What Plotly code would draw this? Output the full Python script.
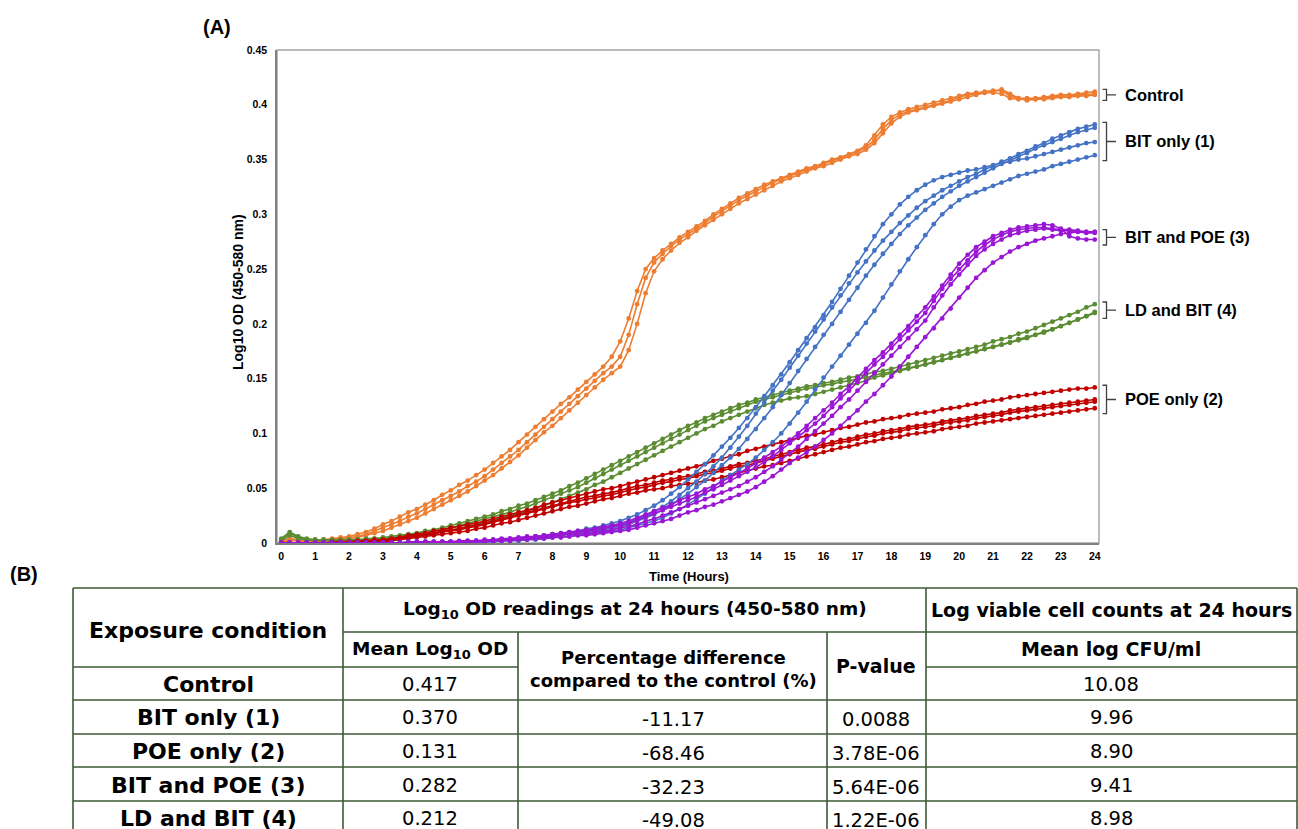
import plotly.graph_objects as go

# ---------------- data ----------------
hours = [0, 0.25, 0.5, 0.75, 1, 1.25, 1.5, 1.75, 2, 2.25, 2.5, 2.75, 3, 3.25, 3.5, 3.75,
         4, 4.25, 4.5, 4.75, 5, 5.25, 5.5, 5.75, 6, 6.25, 6.5, 6.75, 7, 7.25, 7.5, 7.75,
         8, 8.25, 8.5, 8.75, 9, 9.25, 9.5, 9.75, 10, 10.25, 10.5, 10.75, 11, 11.25, 11.5, 11.75,
         12, 12.25, 12.5, 12.75, 13, 13.25, 13.5, 13.75, 14, 14.25, 14.5, 14.75, 15, 15.25, 15.5, 15.75,
         16, 16.25, 16.5, 16.75, 17, 17.25, 17.5, 17.75, 18, 18.25, 18.5, 18.75, 19, 19.25, 19.5, 19.75,
         20, 20.25, 20.5, 20.75, 21, 21.25, 21.5, 21.75, 22, 22.25, 22.5, 22.75, 23, 23.25, 23.5, 23.75, 24]
tick_vals = [0, 1, 2, 3, 4, 5, 6, 7, 8, 9, 10, 11, 12, 13, 14, 15, 16, 17, 18, 19, 20, 21, 22, 23, 24]
tick_labels = ["0", "1", "2", "3", "4", "5", "6", "7", "8", "9", "10", "11", "12",
               "13", "14", "15", "16", "17", "18", "19", "20", "21", "22", "23", "24"]
y_ticks = [0, 0.05, 0.1, 0.15, 0.2, 0.25, 0.3, 0.35, 0.4, 0.45]
y_tick_labels = ["0", "0.05", "0.1", "0.15", "0.2", "0.25", "0.3", "0.35", "0.4", "0.45"]

control_1 = [0.002,
 0.004,0.003,0.002,0.003, 0.003,0.004,0.005,0.006, 0.008,0.010,0.013,0.017, 0.020,0.024,0.028,0.031,
 0.035,0.039,0.044,0.048, 0.053,0.057,0.062,0.067, 0.073,0.079,0.085,0.092, 0.099,0.106,0.113,0.120,
 0.127,0.133,0.140,0.147, 0.154,0.161,0.170,0.184, 0.205,0.230,0.250,0.260, 0.267,0.273,0.279,0.284,
 0.289,0.294,0.300,0.305, 0.310,0.315,0.319,0.323, 0.327,0.330,0.333,0.336, 0.339,0.342,0.344,0.347,
 0.350,0.352,0.355,0.358, 0.363,0.372,0.382,0.389, 0.393,0.396,0.398,0.400, 0.402,0.404,0.406,0.408,
 0.410,0.411,0.412,0.413, 0.413,0.408,0.406,0.406, 0.406,0.407,0.408,0.409, 0.409,0.410,0.411,0.412]
control_2 = [0.002,
 0.003,0.002,0.002,0.002, 0.002,0.003,0.004,0.005, 0.006,0.008,0.011,0.014, 0.017,0.020,0.024,0.027,
 0.031,0.035,0.039,0.043, 0.047,0.052,0.056,0.061, 0.067,0.073,0.079,0.085, 0.092,0.099,0.106,0.113,
 0.120,0.127,0.134,0.141, 0.148,0.155,0.161,0.170, 0.190,0.218,0.242,0.256, 0.264,0.271,0.277,0.282,
 0.287,0.292,0.298,0.303, 0.308,0.313,0.317,0.321, 0.325,0.329,0.332,0.335, 0.338,0.341,0.343,0.346,
 0.349,0.351,0.354,0.357, 0.361,0.368,0.378,0.386, 0.391,0.394,0.396,0.398, 0.400,0.402,0.404,0.407,
 0.409,0.410,0.411,0.411, 0.410,0.406,0.405,0.405, 0.405,0.406,0.407,0.408, 0.408,0.409,0.409,0.410]
control_3 = [0.001,
 0.002,0.002,0.001,0.001, 0.002,0.002,0.003,0.004, 0.005,0.007,0.009,0.011, 0.014,0.017,0.020,0.023,
 0.027,0.031,0.035,0.039, 0.043,0.047,0.052,0.057, 0.062,0.068,0.074,0.080, 0.087,0.094,0.101,0.107,
 0.114,0.121,0.128,0.135, 0.142,0.149,0.155,0.161, 0.176,0.200,0.228,0.248, 0.259,0.267,0.274,0.279,
 0.285,0.290,0.295,0.300, 0.305,0.310,0.314,0.318, 0.322,0.326,0.330,0.333, 0.336,0.339,0.342,0.344,
 0.347,0.350,0.353,0.355, 0.359,0.365,0.374,0.383, 0.389,0.393,0.395,0.397, 0.399,0.401,0.403,0.405,
 0.407,0.409,0.411,0.412, 0.414,0.410,0.406,0.404, 0.405,0.405,0.406,0.407, 0.407,0.408,0.408,0.409]

ld_bit_1 = [0.004,
 0.010,0.006,0.004,0.003, 0.003,0.003,0.003,0.003, 0.003,0.004,0.004,0.005, 0.006,0.007,0.008,0.009,
 0.011,0.012,0.014,0.016, 0.018,0.020,0.022,0.024, 0.026,0.029,0.031,0.034, 0.036,0.039,0.042,0.045,
 0.048,0.052,0.055,0.059, 0.063,0.067,0.071,0.075, 0.079,0.083,0.087,0.091, 0.095,0.099,0.103,0.107,
 0.110,0.114,0.117,0.120, 0.123,0.126,0.128,0.131, 0.133,0.135,0.137,0.139, 0.141,0.143,0.144,0.146,
 0.147,0.149,0.151,0.152, 0.154,0.156,0.157,0.159, 0.161,0.163,0.165,0.167, 0.169,0.171,0.173,0.175,
 0.177,0.179,0.181,0.184, 0.186,0.188,0.191,0.193, 0.196,0.199,0.202,0.205, 0.208,0.211,0.215,0.218]
ld_bit_2 = [0.003,
 0.009,0.005,0.003,0.003, 0.003,0.002,0.002,0.003, 0.003,0.003,0.004,0.004, 0.005,0.006,0.007,0.008,
 0.009,0.011,0.012,0.014, 0.016,0.018,0.020,0.022, 0.024,0.026,0.028,0.031, 0.033,0.036,0.039,0.042,
 0.045,0.048,0.051,0.055, 0.059,0.063,0.067,0.071, 0.075,0.079,0.083,0.087, 0.091,0.095,0.099,0.103,
 0.107,0.111,0.114,0.117, 0.120,0.123,0.126,0.129, 0.131,0.133,0.135,0.137, 0.139,0.141,0.142,0.144,
 0.145,0.147,0.148,0.150, 0.151,0.153,0.155,0.156, 0.158,0.160,0.161,0.163, 0.165,0.167,0.169,0.171,
 0.173,0.175,0.177,0.179, 0.181,0.183,0.186,0.188, 0.190,0.193,0.195,0.198, 0.201,0.204,0.207,0.210]
ld_bit_3 = [0.002,
 0.007,0.004,0.003,0.002, 0.002,0.002,0.002,0.002, 0.002,0.003,0.003,0.003, 0.004,0.005,0.006,0.007,
 0.008,0.009,0.010,0.012, 0.013,0.015,0.017,0.019, 0.021,0.023,0.025,0.027, 0.029,0.032,0.034,0.037,
 0.040,0.043,0.046,0.049, 0.053,0.056,0.060,0.064, 0.068,0.072,0.076,0.080, 0.084,0.088,0.092,0.096,
 0.100,0.104,0.107,0.111, 0.114,0.117,0.120,0.123, 0.126,0.128,0.130,0.132, 0.133,0.134,0.136,0.138,
 0.140,0.142,0.144,0.146, 0.148,0.151,0.153,0.155, 0.157,0.159,0.161,0.163, 0.165,0.167,0.169,0.171,
 0.173,0.175,0.177,0.179, 0.181,0.183,0.185,0.187, 0.190,0.192,0.195,0.198, 0.201,0.204,0.207,0.211]

poe_1 = [0.000,
 0.000,0.000,0.000,0.000, 0.000,0.001,0.001,0.001, 0.002,0.002,0.003,0.003, 0.004,0.005,0.007,0.008,
 0.009,0.011,0.012,0.014, 0.015,0.017,0.018,0.020, 0.022,0.024,0.026,0.028, 0.030,0.032,0.035,0.037,
 0.039,0.041,0.043,0.045, 0.047,0.049,0.050,0.052, 0.054,0.056,0.058,0.060, 0.062,0.064,0.066,0.068,
 0.070,0.072,0.075,0.077, 0.079,0.081,0.084,0.086, 0.088,0.090,0.092,0.094, 0.096,0.098,0.099,0.101,
 0.103,0.105,0.106,0.108, 0.110,0.111,0.113,0.114, 0.115,0.117,0.118,0.119, 0.120,0.122,0.123,0.124,
 0.126,0.127,0.129,0.130, 0.131,0.133,0.134,0.135, 0.136,0.137,0.138,0.139, 0.140,0.141,0.141,0.142]
poe_2 = [0.000,
 0.000,0.000,0.000,0.000, 0.000,0.000,0.001,0.001, 0.001,0.002,0.002,0.002, 0.003,0.004,0.006,0.007,
 0.008,0.009,0.011,0.012, 0.013,0.015,0.016,0.018, 0.020,0.022,0.024,0.026, 0.028,0.030,0.032,0.034,
 0.036,0.038,0.040,0.042, 0.043,0.045,0.046,0.048, 0.050,0.052,0.053,0.055, 0.057,0.058,0.060,0.061,
 0.063,0.065,0.066,0.068, 0.070,0.072,0.073,0.075, 0.077,0.079,0.081,0.083, 0.085,0.087,0.088,0.090,
 0.092,0.094,0.095,0.097, 0.099,0.100,0.102,0.103, 0.104,0.106,0.107,0.108, 0.109,0.111,0.112,0.113,
 0.114,0.116,0.117,0.118, 0.119,0.121,0.122,0.123, 0.124,0.125,0.126,0.127, 0.128,0.129,0.130,0.131]
poe_3 = [0.000,
 0.000,0.000,0.000,0.000, 0.000,0.000,0.000,0.001, 0.001,0.001,0.002,0.002, 0.003,0.004,0.005,0.006,
 0.007,0.008,0.010,0.011, 0.012,0.014,0.015,0.017, 0.019,0.021,0.023,0.025, 0.027,0.029,0.031,0.033,
 0.035,0.037,0.038,0.040, 0.041,0.043,0.044,0.046, 0.048,0.050,0.051,0.053, 0.055,0.056,0.058,0.059,
 0.061,0.063,0.064,0.066, 0.068,0.070,0.071,0.073, 0.075,0.077,0.079,0.081, 0.083,0.085,0.086,0.088,
 0.090,0.092,0.093,0.095, 0.097,0.098,0.100,0.101, 0.102,0.104,0.105,0.106, 0.107,0.109,0.110,0.111,
 0.112,0.114,0.115,0.116, 0.117,0.119,0.120,0.121, 0.122,0.123,0.124,0.125, 0.126,0.127,0.128,0.129]
poe_4 = [0.000,
 0.000,0.000,0.000,0.000, 0.000,0.000,0.000,0.000, 0.000,0.001,0.001,0.001, 0.002,0.003,0.004,0.005,
 0.006,0.007,0.008,0.009, 0.010,0.011,0.013,0.014, 0.016,0.018,0.019,0.021, 0.023,0.025,0.027,0.029,
 0.031,0.033,0.034,0.036, 0.038,0.040,0.041,0.043, 0.045,0.046,0.048,0.049, 0.050,0.052,0.053,0.054,
 0.055,0.057,0.058,0.060, 0.062,0.064,0.066,0.068, 0.070,0.071,0.073,0.075, 0.077,0.079,0.081,0.083,
 0.085,0.087,0.088,0.090, 0.092,0.093,0.095,0.096, 0.097,0.099,0.100,0.101, 0.102,0.104,0.105,0.106,
 0.107,0.109,0.110,0.111, 0.112,0.113,0.114,0.115, 0.116,0.117,0.118,0.119, 0.120,0.121,0.122,0.123]

bit_1 = [0.000,
 0.000,0.000,0.000,0.000, 0.000,0.000,0.000,0.000, 0.000,0.000,0.000,0.000, 0.000,0.000,0.001,0.001,
 0.001,0.001,0.001,0.001, 0.001,0.002,0.002,0.002, 0.002,0.003,0.003,0.004, 0.005,0.006,0.007,0.008,
 0.009,0.010,0.011,0.013, 0.014,0.016,0.018,0.020, 0.023,0.026,0.030,0.034, 0.039,0.045,0.051,0.058,
 0.065,0.072,0.080,0.088, 0.096,0.105,0.114,0.124, 0.134,0.144,0.154,0.165, 0.176,0.187,0.197,0.208,
 0.220,0.232,0.244,0.256, 0.268,0.280,0.291,0.300, 0.309,0.316,0.322,0.327, 0.331,0.334,0.336,0.338,
 0.340,0.341,0.343,0.345, 0.347,0.348,0.350,0.351, 0.353,0.355,0.357,0.359, 0.361,0.363,0.365,0.366]
bit_2 = [0.000,
 0.000,0.000,0.000,0.000, 0.000,0.000,0.000,0.000, 0.000,0.000,0.000,0.000, 0.000,0.000,0.000,0.001,
 0.001,0.001,0.001,0.001, 0.001,0.001,0.002,0.002, 0.002,0.003,0.003,0.004, 0.004,0.005,0.006,0.007,
 0.008,0.009,0.010,0.011, 0.012,0.014,0.015,0.017, 0.019,0.022,0.025,0.029, 0.033,0.038,0.044,0.050,
 0.056,0.063,0.070,0.078, 0.087,0.097,0.107,0.118, 0.128,0.139,0.149,0.160, 0.171,0.182,0.193,0.204,
 0.215,0.226,0.237,0.247, 0.257,0.267,0.276,0.284, 0.292,0.299,0.306,0.312, 0.317,0.322,0.326,0.330,
 0.334,0.337,0.341,0.344, 0.348,0.351,0.355,0.358, 0.362,0.365,0.369,0.372, 0.375,0.378,0.380,0.382]
bit_3 = [0.000,
 0.000,0.000,0.000,0.000, 0.000,0.000,0.000,0.000, 0.000,0.000,0.000,0.000, 0.000,0.000,0.000,0.000,
 0.001,0.001,0.001,0.001, 0.001,0.001,0.001,0.002, 0.002,0.002,0.003,0.003, 0.004,0.004,0.005,0.006,
 0.007,0.008,0.009,0.010, 0.011,0.012,0.014,0.015, 0.017,0.020,0.023,0.026, 0.030,0.035,0.040,0.045,
 0.051,0.057,0.064,0.071, 0.078,0.086,0.095,0.104, 0.114,0.124,0.135,0.146, 0.157,0.168,0.179,0.190,
 0.200,0.211,0.222,0.233, 0.244,0.254,0.264,0.273, 0.282,0.290,0.297,0.304, 0.310,0.316,0.321,0.326,
 0.330,0.334,0.338,0.342, 0.346,0.349,0.353,0.356, 0.360,0.363,0.366,0.369, 0.372,0.375,0.377,0.379]
bit_4 = [0.000,
 0.000,0.000,0.000,0.000, 0.000,0.000,0.000,0.000, 0.000,0.000,0.000,0.000, 0.000,0.000,0.000,0.000,
 0.000,0.000,0.001,0.001, 0.001,0.001,0.001,0.001, 0.001,0.002,0.002,0.002, 0.003,0.003,0.004,0.005,
 0.006,0.006,0.007,0.008, 0.009,0.010,0.011,0.012, 0.014,0.016,0.018,0.020, 0.023,0.027,0.031,0.035,
 0.040,0.045,0.051,0.057, 0.062,0.067,0.072,0.078, 0.085,0.092,0.100,0.109, 0.119,0.129,0.140,0.151,
 0.161,0.171,0.181,0.191, 0.201,0.212,0.224,0.236, 0.248,0.259,0.270,0.281, 0.291,0.300,0.307,0.313,
 0.317,0.320,0.323,0.326, 0.329,0.332,0.335,0.337, 0.339,0.341,0.344,0.346, 0.348,0.350,0.352,0.354]

bit_poe_1 = [0.000,
 0.000,0.000,0.000,0.000, 0.000,0.000,0.000,0.000, 0.000,0.000,0.000,0.000, 0.000,0.000,0.001,0.001,
 0.001,0.001,0.001,0.001, 0.002,0.002,0.002,0.003, 0.003,0.004,0.004,0.005, 0.006,0.006,0.007,0.008,
 0.009,0.010,0.011,0.012, 0.013,0.015,0.016,0.018, 0.020,0.023,0.026,0.029, 0.032,0.035,0.039,0.042,
 0.045,0.049,0.052,0.056, 0.060,0.064,0.068,0.073, 0.078,0.083,0.088,0.094, 0.100,0.107,0.114,0.121,
 0.128,0.136,0.143,0.151, 0.159,0.167,0.174,0.182, 0.190,0.198,0.207,0.215, 0.225,0.235,0.245,0.255,
 0.263,0.270,0.275,0.280, 0.283,0.286,0.288,0.289, 0.290,0.291,0.290,0.287, 0.280,0.278,0.277,0.277]
bit_poe_2 = [0.000,
 0.000,0.000,0.000,0.000, 0.000,0.000,0.000,0.000, 0.000,0.000,0.000,0.000, 0.000,0.000,0.000,0.001,
 0.001,0.001,0.001,0.001, 0.001,0.002,0.002,0.002, 0.003,0.003,0.004,0.004, 0.005,0.006,0.006,0.007,
 0.008,0.009,0.010,0.011, 0.012,0.013,0.015,0.016, 0.018,0.021,0.024,0.027, 0.030,0.033,0.036,0.039,
 0.042,0.046,0.049,0.053, 0.057,0.061,0.065,0.069, 0.074,0.079,0.085,0.091, 0.097,0.103,0.109,0.116,
 0.124,0.132,0.139,0.147, 0.155,0.163,0.170,0.178, 0.186,0.194,0.202,0.210, 0.221,0.232,0.241,0.250,
 0.258,0.266,0.272,0.277, 0.281,0.284,0.286,0.287, 0.288,0.288,0.287,0.286, 0.286,0.285,0.284,0.284]
bit_poe_3 = [0.000,
 0.000,0.000,0.000,0.000, 0.000,0.000,0.000,0.000, 0.000,0.000,0.000,0.000, 0.000,0.000,0.000,0.000,
 0.001,0.001,0.001,0.001, 0.001,0.001,0.002,0.002, 0.002,0.003,0.003,0.004, 0.004,0.005,0.005,0.006,
 0.007,0.008,0.008,0.009, 0.010,0.011,0.012,0.014, 0.015,0.017,0.020,0.022, 0.025,0.028,0.031,0.034,
 0.037,0.040,0.043,0.046, 0.049,0.052,0.056,0.060, 0.065,0.070,0.076,0.082, 0.088,0.095,0.102,0.109,
 0.116,0.124,0.131,0.139, 0.147,0.155,0.163,0.171, 0.179,0.187,0.195,0.203, 0.215,0.226,0.236,0.245,
 0.254,0.262,0.268,0.273, 0.277,0.281,0.283,0.285, 0.286,0.287,0.286,0.285, 0.285,0.284,0.283,0.283]
bit_poe_4 = [0.000,
 0.000,0.000,0.000,0.000, 0.000,0.000,0.000,0.000, 0.000,0.000,0.000,0.000, 0.000,0.000,0.000,0.000,
 0.000,0.000,0.000,0.001, 0.001,0.001,0.001,0.001, 0.002,0.002,0.002,0.003, 0.003,0.004,0.004,0.005,
 0.005,0.006,0.007,0.007, 0.008,0.009,0.010,0.011, 0.012,0.014,0.016,0.018, 0.020,0.022,0.025,0.028,
 0.030,0.033,0.035,0.038, 0.041,0.044,0.047,0.051, 0.056,0.061,0.067,0.073, 0.078,0.083,0.088,0.094,
 0.100,0.107,0.114,0.121, 0.129,0.136,0.144,0.152, 0.161,0.170,0.179,0.188, 0.196,0.205,0.214,0.224,
 0.233,0.242,0.249,0.256, 0.261,0.266,0.270,0.273, 0.276,0.278,0.280,0.282, 0.283,0.284,0.284,0.284]

group_names = ["Control", "LD and BIT (4)", "POE only (2)", "BIT only (1)", "BIT and POE (3)"]
group_colors = ["#ED7D31", "#5B8C32", "#C00000", "#4472C4", "#9A16D4"]
group_series = [
    [control_1, control_2, control_3],
    [ld_bit_1, ld_bit_2, ld_bit_3],
    [poe_1, poe_2, poe_3, poe_4],
    [bit_1, bit_2, bit_3, bit_4],
    [bit_poe_1, bit_poe_2, bit_poe_3, bit_poe_4],
]

# table (B)
conditions = ["Control", "BIT only (1)", "POE only (2)", "BIT and POE (3)", "LD and BIT (4)"]
mean_od = ["0.417", "0.370", "0.131", "0.282", "0.212"]
pct_diff = ["", "-11.17", "-68.46", "-32.23", "-49.08"]
p_values = ["", "0.0088", "3.78E-06", "5.64E-06", "1.22E-06"]
cfu = ["10.08", "9.96", "8.90", "9.41", "8.98"]

# ---------------- layout helpers ----------------
W, H = 1298, 829
PL, PR, PT, PB = 277, 1099, 50, 543


def px(x):
    return (x - PL) / (PR - PL)


def py(y):
    return (PB - y) / (PB - PT)


CHART_FONT = "Liberation Sans, Arial, sans-serif"
TABLE_FONT = "DejaVu Sans, Verdana, sans-serif"

fig = go.Figure()
for name, color, reps in zip(group_names, group_colors, group_series):
    for i, ys in enumerate(reps):
        fig.add_trace(go.Scatter(
            x=hours, y=ys, mode="lines+markers", name=name,
            line=dict(color=color, width=1.6),
            marker=dict(color=color, size=4.8),
            showlegend=False, hoverinfo="x+y+name"))

shapes = []
annotations = []

# plot frame
shapes.append(dict(type="rect", xref="paper", yref="paper", x0=0, x1=1, y0=0, y1=1,
                   line=dict(color="#a6a6a6", width=1.5), layer="below"))

# brackets + group labels at the right
for name, reps in zip(group_names, group_series):
    ends = [r[-1] for r in reps]
    lo, hi = min(ends) - 0.005, max(ends) + 0.002
    mid = (lo + hi) / 2
    xa, xb, xc = px(1102.5), px(1106.5), px(1116)
    path = (f"M {xa},{hi} L {xb},{hi} L {xb},{lo} L {xa},{lo} "
            f"M {xb},{mid} L {xc},{mid}")
    shapes.append(dict(type="path", xref="paper", yref="y", path=path,
                       line=dict(color="#404040", width=1.3)))
    annotations.append(dict(x=px(1123), y=mid, xref="paper", yref="y", text=name,
                            showarrow=False, xanchor="left", yanchor="middle",
                            font=dict(family=CHART_FONT, size=16.5, color="black", weight="bold")))

# panel labels and axis titles
annotations.append(dict(x=px(217), y=py(27), xref="paper", yref="paper", text="(A)",
                        showarrow=False, xanchor="center", yanchor="middle",
                        font=dict(family=CHART_FONT, size=20, color="black", weight="bold")))
annotations.append(dict(x=px(24), y=py(574), xref="paper", yref="paper", text="(B)",
                        showarrow=False, xanchor="center", yanchor="middle",
                        font=dict(family=CHART_FONT, size=20, color="black", weight="bold")))
annotations.append(dict(x=px(689), y=py(576), xref="paper", yref="paper", text="Time (Hours)",
                        showarrow=False, xanchor="center", yanchor="middle",
                        font=dict(family=CHART_FONT, size=13, color="black", weight="bold")))
annotations.append(dict(x=px(238), y=py(292), xref="paper", yref="paper",
                        text="Log10 OD (450-580 nm)", textangle=-90,
                        showarrow=False, xanchor="center", yanchor="middle",
                        font=dict(family=CHART_FONT, size=14, color="black", weight="bold")))

# ---------------- table ----------------
LC = "#3d5a36"
TB = 840  # bottom (beyond the visible page)


def hline(x0, x1, y):
    shapes.append(dict(type="line", xref="paper", yref="paper", x0=px(x0), x1=px(x1),
                       y0=py(y), y1=py(y), line=dict(color=LC, width=1.6)))


def vline(x, y0, y1):
    shapes.append(dict(type="line", xref="paper", yref="paper", x0=px(x), x1=px(x),
                       y0=py(y0), y1=py(y1), line=dict(color=LC, width=1.6)))


rows = [588, 632, 667, 700, 734, 767, 801, 835]
hline(73, 1297, 588)
hline(343, 1297, 632)
hline(73, 518, 667)
hline(926, 1297, 667)
for r in rows[3:]:
    hline(73, 1297, r)
vline(73, 588, TB)
vline(343, 588, TB)
vline(518, 632, TB)
vline(827, 632, TB)
vline(926, 588, TB)
vline(1297, 588, TB)


def cell(x, y, text, size, bold):
    f = dict(family=TABLE_FONT, size=size, color="black")
    if bold:
        f["weight"] = "bold"
    annotations.append(dict(x=px(x), y=py(y), xref="paper", yref="paper", text=text,
                            showarrow=False, xanchor="center", yanchor="middle", font=f))


cell(208, 630, "Exposure condition", 22, True)
cell(635, 610, "Log<sub>10</sub> OD readings at 24 hours (450-580 nm)", 18.5, True)
cell(1111, 610, "Log viable cell counts at 24 hours", 19, True)
cell(430, 650, "Mean Log<sub>10</sub> OD", 18.5, True)
cell(673, 669, "Percentage difference<br>compared to the control (%)", 18, True)
cell(876, 666, "P-value", 19, True)
cell(1111, 649, "Mean log CFU/ml", 19, True)

row_y = [684, 717, 751, 785, 818]
for i, yy in enumerate(row_y):
    cell(208, yy, conditions[i], 22, True)
    cell(430, yy, mean_od[i], 19.5, False)
    if pct_diff[i]:
        cell(673, yy + 2, pct_diff[i], 19.5, False)
    if p_values[i]:
        cell(876, yy + 2, p_values[i], 19.5, False)
    cell(1111, yy, cfu[i], 19.5, False)

fig.update_layout(
    width=W, height=H,
    margin=dict(l=PL, r=W - PR, t=PT, b=H - PB, pad=0),
    paper_bgcolor="white", plot_bgcolor="white",
    shapes=shapes, annotations=annotations,
    xaxis=dict(range=[-0.125, 24.125], tickmode="array", tickvals=tick_vals, ticktext=tick_labels,
               showgrid=False, zeroline=False, showline=True, linecolor="#808080", linewidth=1.5,
               ticks="outside", ticklen=3, tickcolor="rgba(0,0,0,0)",
               tickfont=dict(family=CHART_FONT, size=10.5, color="black", weight="bold")),
    yaxis=dict(range=[0, 0.45], tickmode="array", tickvals=y_ticks, ticktext=y_tick_labels,
               showgrid=False, zeroline=False, showline=True, linecolor="#808080", linewidth=1.5,
               ticks="outside", ticklen=6, tickcolor="rgba(0,0,0,0)",
               tickfont=dict(family=CHART_FONT, size=10.5, color="black", weight="bold")),
    showlegend=False,
)

fig.write_html("out.html", config={"displayModeBar": False},
               post_script="document.body.style.margin='0';document.body.style.overflow='hidden';")
